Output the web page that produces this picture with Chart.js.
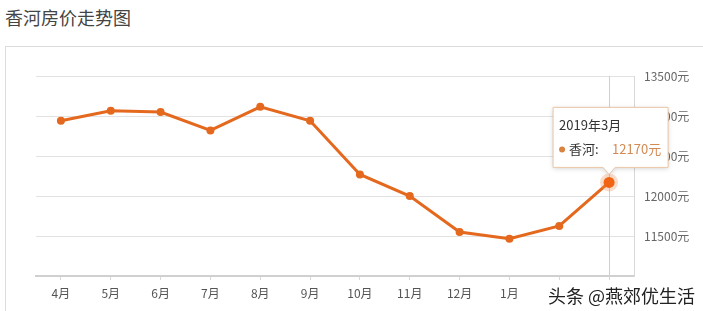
<!DOCTYPE html>
<html lang="zh">
<head>
<meta charset="UTF-8">
<title>香河房价走势图</title>
<script src="https://cdn.jsdelivr.net/npm/chart.js"></script>
<style>
  html, body { margin: 0; padding: 0; background: #fff; }
  body { width: 703px; height: 311px; position: relative; overflow: hidden;
         font-family: "Noto Sans CJK SC", "Noto Sans", sans-serif; }
  #title { position: absolute; left: 5px; top: 4px; font-size: 18px; color: #444; }
  #panel { position: absolute; left: 5px; top: 46px; width: 720px; height: 300px;
           border: 1px solid #dcdcdc; }
  #chart { position: absolute; left: 0; top: 0; }
</style>
</head>
<body>
<div id="title">香河房价走势图</div>
<div id="panel"></div>
<canvas id="chart" width="703" height="311"></canvas>
<script>
// months from 2018-04 to 2019-03
const months = ['4月', '5月', '6月', '7月', '8月', '9月', '10月', '11月', '12月', '1月', '2月', '3月'];
const prices = [12940, 13065, 13050, 12820, 13115, 12940, 12270, 12000, 11550, 11465, 11625, 12170];
const seriesName = '香河';
const activeIndex = 11;
const activeTitle = '2019年3月';

const orange = '#e4691e';
const font = '"Noto Sans CJK SC", "Noto Sans", sans-serif';

// crosshair, halo, tooltip and watermark
const overlay = {
  id: 'overlay',
  beforeDatasetsDraw(chart) {
    const { ctx, chartArea, scales } = chart;
    const x = scales.x.getPixelForValue(activeIndex);
    ctx.save();
    ctx.strokeStyle = '#cfcfcf';
    ctx.lineWidth = 1;
    ctx.beginPath();
    ctx.moveTo(Math.round(x) + 0.5, chartArea.top);
    ctx.lineTo(Math.round(x) + 0.5, chartArea.bottom);
    ctx.stroke();
    ctx.restore();
  },
  afterDraw(chart) {
    const { ctx, scales } = chart;
    const px = scales.x.getPixelForValue(activeIndex);
    const py = scales.y.getPixelForValue(prices[activeIndex]);
    ctx.save();
    // halo
    ctx.fillStyle = 'rgba(240, 140, 80, 0.3)';
    ctx.beginPath();
    ctx.arc(px, py, 9, 0, Math.PI * 2);
    ctx.fill();
    ctx.fillStyle = '#f06414';
    ctx.beginPath();
    ctx.arc(px, py, 5.5, 0, Math.PI * 2);
    ctx.fill();

    // tooltip box
    const bx = px - 56, bw = 115, bh = 60;
    const by = py - 15 - bh;
    ctx.shadowColor = 'rgba(0,0,0,0.18)';
    ctx.shadowBlur = 5;
    ctx.shadowOffsetY = 1;
    ctx.fillStyle = '#fff';
    ctx.strokeStyle = '#ecc6a6';
    ctx.lineWidth = 1;
    ctx.beginPath();
    ctx.moveTo(bx, by);
    ctx.lineTo(bx + bw, by);
    ctx.lineTo(bx + bw, by + bh);
    ctx.lineTo(px + 6, by + bh);
    ctx.lineTo(px, by + bh + 7);
    ctx.lineTo(px - 6, by + bh);
    ctx.lineTo(bx, by + bh);
    ctx.closePath();
    ctx.fill();
    ctx.shadowColor = 'transparent';
    ctx.stroke();

    ctx.textBaseline = 'middle';
    ctx.textAlign = 'left';
    ctx.font = '13px ' + font;
    ctx.fillStyle = '#333';
    ctx.fillText(activeTitle, bx + 6, by + 18);
    ctx.fillStyle = '#d9833f';
    ctx.beginPath();
    ctx.arc(bx + 9, by + 42, 3, 0, Math.PI * 2);
    ctx.fill();
    ctx.fillStyle = '#333';
    ctx.fillText(seriesName + ':', bx + 16, by + 42);
    ctx.fillStyle = '#d48a52';
    ctx.fillText(prices[activeIndex] + '元', bx + 59, by + 42);

    // watermark
    ctx.fillStyle = '#fff';
    ctx.fillRect(546, 283, 160, 28);
    ctx.font = '18px ' + font;
    ctx.fillStyle = '#222';
    ctx.textBaseline = 'alphabetic';
    ctx.fillText('头条 @燕郊优生活', 548, 303);
    ctx.restore();
  }
};

new Chart(document.getElementById('chart'), {
  type: 'line',
  data: {
    labels: months,
    datasets: [{
      label: seriesName,
      data: prices,
      borderColor: orange,
      borderWidth: 3,
      backgroundColor: orange,
      pointRadius: 4,
      pointBackgroundColor: orange,
      pointBorderWidth: 0,
      tension: 0
    }]
  },
  options: {
    responsive: false,
    animation: false,
    events: [],
    layout: { padding: { left: 36, top: 76, right: 0, bottom: 0 } },
    plugins: { legend: { display: false }, tooltip: { enabled: false } },
    scales: {
      x: {
        offset: true,
        grid: { offset: false, drawOnChartArea: false, drawTicks: true, tickLength: 4, color: '#d8d8d8' },
        border: { color: '#d0d0d0', width: 2 },
        ticks: { color: '#555', font: { family: font, size: 12 }, padding: 6, autoSkip: false, maxRotation: 0 },
        afterFit(scale) { scale.height = 35; }
      },
      y: {
        position: 'right',
        min: 11000,
        max: 13500,
        grid: { color: '#e2e2e2', drawTicks: false },
        border: { color: '#d8d8d8', width: 1 },
        ticks: {
          stepSize: 500,
          padding: 10,
          color: '#666',
          font: { family: font, size: 12 },
          callback: (v) => v === 11000 ? '' : v + '元'
        },
        afterFit(scale) { scale.width = 69; }
      }
    }
  },
  plugins: [overlay]
});
</script>
</body>
</html>
